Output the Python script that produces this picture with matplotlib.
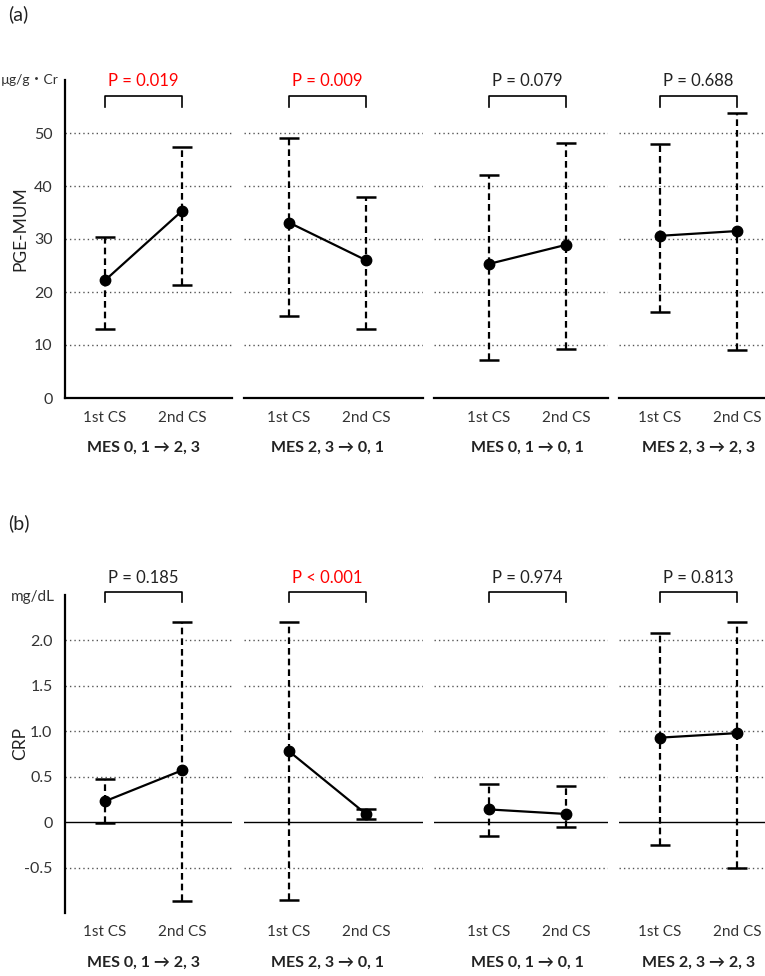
import matplotlib
matplotlib.use("Agg")
import matplotlib.pyplot as plt

plt.rcParams['font.family'] = ['Lato', 'Noto Sans CJK JP', 'DejaVu Sans']

# data
groups = ['MES 0, 1 → 2, 3', 'MES 2, 3 → 0, 1', 'MES 0, 1 → 0, 1', 'MES 2, 3 → 2, 3']
visits = ['1st CS', '2nd CS']

pge_mean = [[22.2, 35.3], [33.1, 26.0], [25.3, 28.9], [30.6, 31.5]]
pge_low = [[13.0, 21.4], [15.4, 13.0], [7.1, 9.2], [16.2, 9.0]]
pge_high = [[30.3, 47.3], [49.1, 38.0], [42.1, 48.2], [47.9, 53.8]]
pge_p = ['P = 0.019', 'P = 0.009', 'P = 0.079', 'P = 0.688']
pge_sig = [True, True, False, False]

crp_mean = [[0.23, 0.57], [0.78, 0.09], [0.14, 0.09], [0.93, 0.98]]
crp_low = [[-0.01, -0.87], [-0.86, 0.03], [-0.15, -0.05], [-0.25, -0.50]]
crp_high = [[0.48, 2.20], [2.20, 0.15], [0.42, 0.40], [2.08, 2.20]]
crp_p = ['P = 0.185', 'P < 0.001', 'P = 0.974', 'P = 0.813']
crp_sig = [False, True, False, False]

# layout in pixels
W, H = 765, 976
panel_left = [65, 244, 434, 619]
panel_right = [232, 423, 608, 765]
first_x = [105, 289, 489, 660]
step = 77.0

fig = plt.figure(figsize=(W / 100, H / 100), dpi=100)


def draw_row(top_px, bot_px, ylim, grid_vals, yticks, yticklabels, mean, low, high,
             ptxt, sig, bracket, ptext_y, ylabel, zero_line):
    axes = []
    for i in range(4):
        L, R = panel_left[i], panel_right[i]
        ax = fig.add_axes([L / W, 1 - bot_px / H, (R - L) / W, (bot_px - top_px) / H])
        lo = 1 - (first_x[i] - L) / step
        hi = 1 + (R - first_x[i]) / step
        ax.set_xlim(lo, hi)
        ax.set_ylim(*ylim)
        for g in grid_vals:
            ax.axhline(g, color='#555555', lw=1.0, ls=(0, (1, 2.2)), zorder=1)
        if zero_line:
            ax.axhline(0, color='black', lw=1.0, zorder=2)
            ax.spines['bottom'].set_visible(False)
        else:
            ax.spines['bottom'].set_linewidth(1.6)
        ax.spines['top'].set_visible(False)
        ax.spines['right'].set_visible(False)
        if i == 0:
            ax.spines['left'].set_linewidth(1.6)
            ax.set_yticks(yticks)
            ax.set_yticklabels(yticklabels, fontsize=11.5, color='#333333')
            ax.tick_params(axis='y', length=0, pad=9)
        else:
            ax.spines['left'].set_visible(False)
            ax.set_yticks([])
        ax.set_xticks([1, 2])
        ax.set_xticklabels(visits, fontsize=11, color='#333333')
        ax.tick_params(axis='x', length=0, pad=9)

        xs = [1, 2]
        m = mean[i]
        err = [[m[0] - low[i][0], m[1] - low[i][1]], [high[i][0] - m[0], high[i][1] - m[1]]]
        eb = ax.errorbar(xs, m, yerr=err, fmt='none', ecolor='black', elinewidth=1.6,
                         capsize=7.5, capthick=1.8, zorder=3, clip_on=False)
        eb[2][0].set_linestyle((0, (3, 1.8)))
        ax.plot(xs, m, color='black', lw=1.6, marker='o', ms=7.5, zorder=4, clip_on=False)

        b0, b1 = bracket
        ax.plot([1, 1, 2, 2], [b0, b1, b1, b0], color='black', lw=1.2, clip_on=False)
        ax.text(1.5, ptext_y, ptxt[i], ha='center', va='center', fontsize=12,
                color='#ff0000' if sig[i] else '#222222')
        ax.annotate(groups[i], xy=(1.5, 0), xycoords=('data', 'axes fraction'),
                    xytext=(0, -50 * 0.72), textcoords='offset points',
                    ha='center', va='center', fontsize=11.5, fontweight='bold', color='#222222')
        axes.append(ax)
    fig.text(20 / W, 1 - ((top_px + bot_px) / 2 - 10) / H, ylabel, ha='center', va='center',
             rotation=90, fontsize=12.5, color='#222222')
    return axes


draw_row(80, 398, (0, 60), [10, 20, 30, 40, 50], [0, 10, 20, 30, 40, 50],
         ['0', '10', '20', '30', '40', '50'], pge_mean, pge_low, pge_high,
         pge_p, pge_sig, (54.9, 56.9), 59.8, 'PGE-MUM', False)

draw_row(595, 913, (-1.0, 2.5), [-0.5, 0.5, 1.0, 1.5, 2.0], [-0.5, 0, 0.5, 1.0, 1.5, 2.0],
         ['-0.5', '0', '0.5', '1.0', '1.5', '2.0'], crp_mean, crp_low, crp_high,
         crp_p, crp_sig, (2.42, 2.535), 2.69, 'CRP', True)

# units above the y axes
fig.text(1 / W, 1 - 80 / H, 'µg/g・Cr', ha='left', va='center', fontsize=10, color='#333333')
fig.text(55 / W, 1 - 597 / H, 'mg/dL', ha='right', va='center', fontsize=11, color='#333333')

fig.text(8 / W, 1 - 14 / H, '(a)', ha='left', va='center', fontsize=14, color='#222222')
fig.text(8 / W, 1 - 523 / H, '(b)', ha='left', va='center', fontsize=14, color='#222222')

fig.savefig('out.png', dpi=100)
